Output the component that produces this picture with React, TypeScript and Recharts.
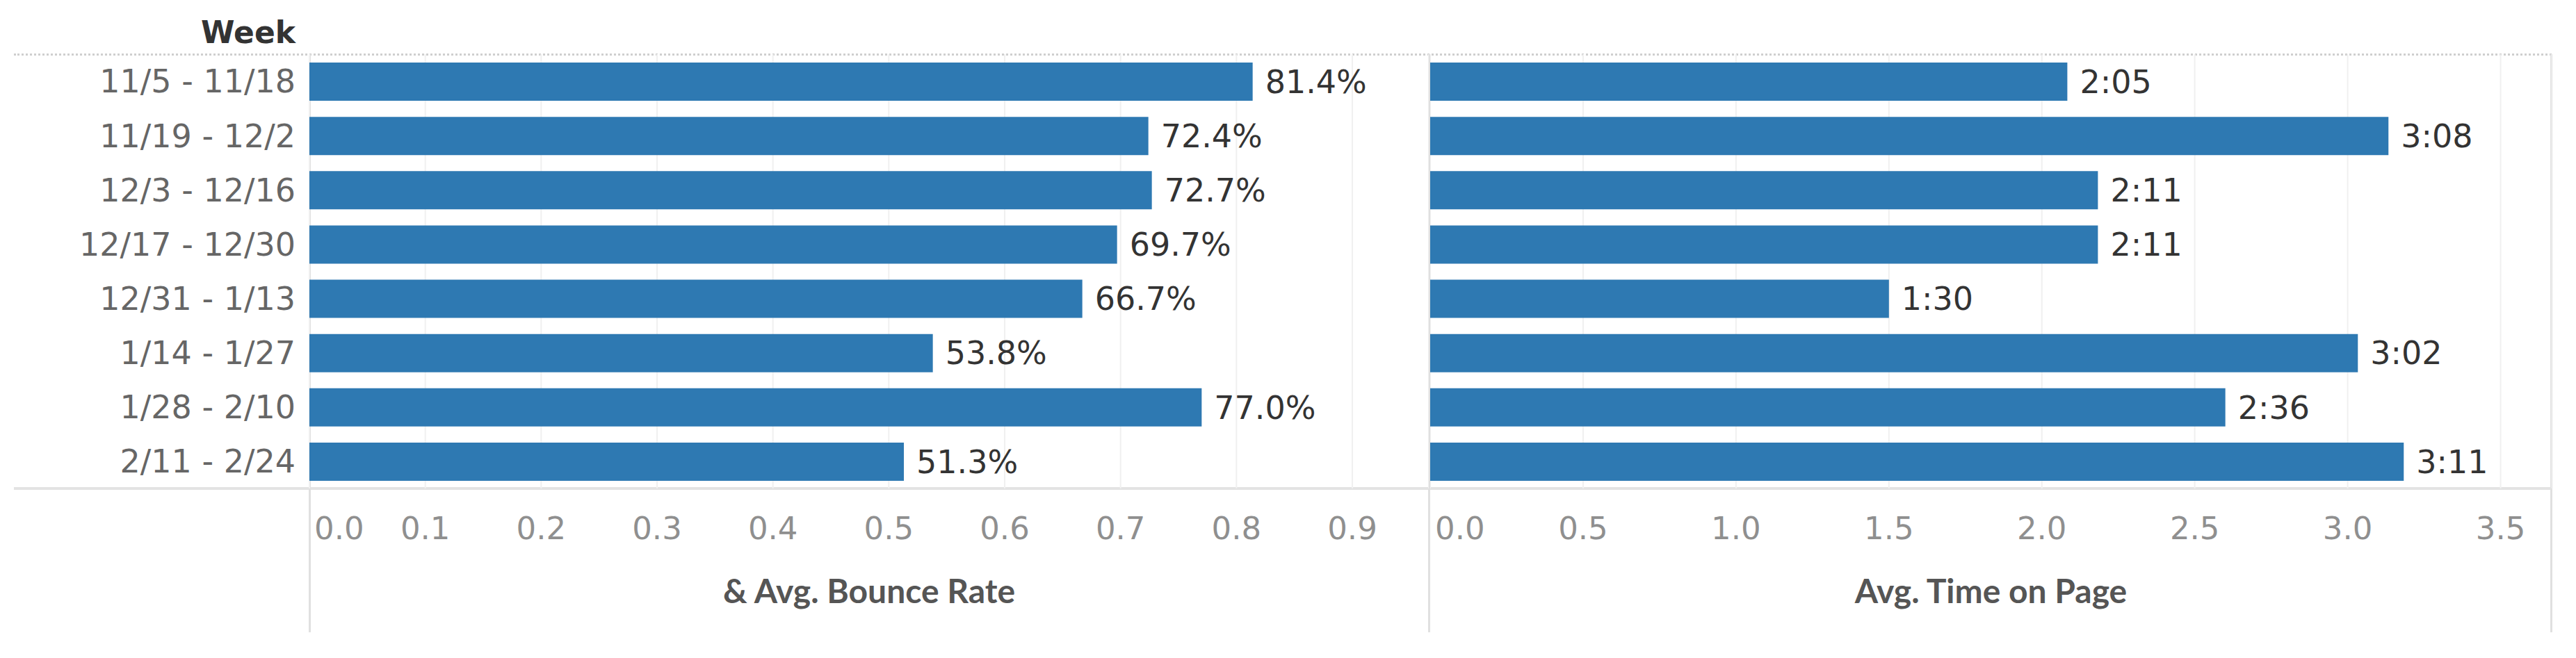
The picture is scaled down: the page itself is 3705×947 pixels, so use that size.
import React from 'react';
import { BarChart, Bar, XAxis, YAxis, CartesianGrid, LabelList } from 'recharts';

const weeks = [
  '11/5 - 11/18',
  '11/19 - 12/2',
  '12/3 - 12/16',
  '12/17 - 12/30',
  '12/31 - 1/13',
  '1/14 - 1/27',
  '1/28 - 2/10',
  '2/11 - 2/24',
];
const bounceRate = [0.814, 0.724, 0.727, 0.697, 0.667, 0.538, 0.77, 0.513];
// avg. time on page in seconds (2:05, 3:08 ...)
const timeOnPageSec = [125, 188, 131, 131, 90, 182, 156, 191];

const bounceTicks = [0, 0.1, 0.2, 0.3, 0.4, 0.5, 0.6, 0.7, 0.8, 0.9];
const timeTicks = [0, 0.5, 1, 1.5, 2, 2.5, 3, 3.5];

const data = weeks.map((week, i) => ({
  week,
  bounce: bounceRate[i],
  time: timeOnPageSec[i] / 60,
}));

const BAR_COLOR = '#2e79b2';
const TICK_FONT = 'DejaVu Sans';

const fmtPct = (v: number) => `${(v * 100).toFixed(1)}%`;
const fmtTime = (v: number) => {
  const s = Math.round(v * 60);
  return `${Math.floor(s / 60)}:${String(s % 60).padStart(2, '0')}`;
};

// tableau pushes the first tick label inside the pane
const XTick = (props: any) => {
  const { x, y, payload } = props;
  const first = payload.value === 0;
  return (
    <text
      x={first ? x + 7 : x}
      y={y}
      dy="0.71em"
      textAnchor={first ? 'start' : 'middle'}
      fill="#8f8f8f"
      fontSize={45}
      fontFamily={TICK_FONT}
    >
      {payload.value.toFixed(1)}
    </text>
  );
};

const titleStyle = { fill: '#555', fontSize: 48, fontFamily: 'Lato', fontWeight: 700 };

const line = (style: React.CSSProperties): React.CSSProperties => ({
  position: 'absolute',
  background: '#e0e0e0',
  ...style,
});

const App: React.FC = () => {
  return (
    <div style={{ position: 'absolute', left: 0, top: 0, width: 3705, height: 947, background: '#fff' }}>
      {/* frame */}
      <div style={{ position: 'absolute', left: 20, top: 77, width: 3650, height: 0, borderTop: '3px dotted #cfcfcf' }} />
      <div style={line({ left: 20, top: 701, width: 3651, height: 4, background: '#e3e3e3' })} />
      <div style={line({ left: 444, top: 78, width: 3, height: 832 })} />
      <div style={line({ left: 2054, top: 78, width: 3, height: 832 })} />
      <div style={line({ left: 3668, top: 78, width: 3, height: 832 })} />

      <svg style={{ position: 'absolute', left: 0, top: 0 }} width={440} height={78}>
        <text x={425} y={62} textAnchor="end" fill="#333" fontSize={44} fontWeight={700} fontFamily={TICK_FONT}>
          Week
        </text>
      </svg>

      <div style={{ position: 'absolute', left: 0, top: 0 }}>
        <BarChart
          width={2055}
          height={947}
          data={data}
          layout="vertical"
          margin={{ top: 78, right: 0, bottom: 39, left: 0 }}
          barSize={55}
        >
          <CartesianGrid horizontal={false} stroke="#f0f0f0" strokeWidth={2} />
          <XAxis
            type="number"
            dataKey="bounce"
            domain={[0, 0.966]}
            ticks={bounceTicks}
            interval={0}
            height={205}
            axisLine={false}
            tickLine={false}
            tickSize={0}
            tickMargin={41}
            tick={<XTick />}
            label={{ value: '& Avg. Bounce Rate', position: 'insideBottom', offset: 40, ...titleStyle }}
          />
          <YAxis
            type="category"
            dataKey="week"
            width={445}
            interval={0}
            axisLine={false}
            tickLine={false}
            tickSize={0}
            tickMargin={20}
            tick={{ fill: '#666', fontSize: 46, fontFamily: TICK_FONT }}
          />
          <Bar dataKey="bounce" fill={BAR_COLOR} isAnimationActive={false}>
            <LabelList
              dataKey="bounce"
              position="right"
              offset={18}
              formatter={(v: any) => fmtPct(Number(v))}
              fill="#333"
              fontSize={46}
              fontFamily={TICK_FONT}
            />
          </Bar>
        </BarChart>
      </div>

      <div style={{ position: 'absolute', left: 2057, top: 0 }}>
        <BarChart
          width={1613}
          height={947}
          data={data}
          layout="vertical"
          margin={{ top: 78, right: 0, bottom: 39, left: 0 }}
          barSize={55}
        >
          <CartesianGrid horizontal={false} stroke="#f0f0f0" strokeWidth={2} />
          <XAxis
            type="number"
            dataKey="time"
            domain={[0, 3.667]}
            ticks={timeTicks}
            interval={0}
            height={205}
            axisLine={false}
            tickLine={false}
            tickSize={0}
            tickMargin={41}
            tick={<XTick />}
            label={{ value: 'Avg. Time on Page', position: 'insideBottom', offset: 40, ...titleStyle }}
          />
          <YAxis type="category" dataKey="week" hide />
          <Bar dataKey="time" fill={BAR_COLOR} isAnimationActive={false}>
            <LabelList
              dataKey="time"
              position="right"
              offset={18}
              formatter={(v: any) => fmtTime(Number(v))}
              fill="#333"
              fontSize={46}
              fontFamily={TICK_FONT}
            />
          </Bar>
        </BarChart>
      </div>
    </div>
  );
};

export default App;
